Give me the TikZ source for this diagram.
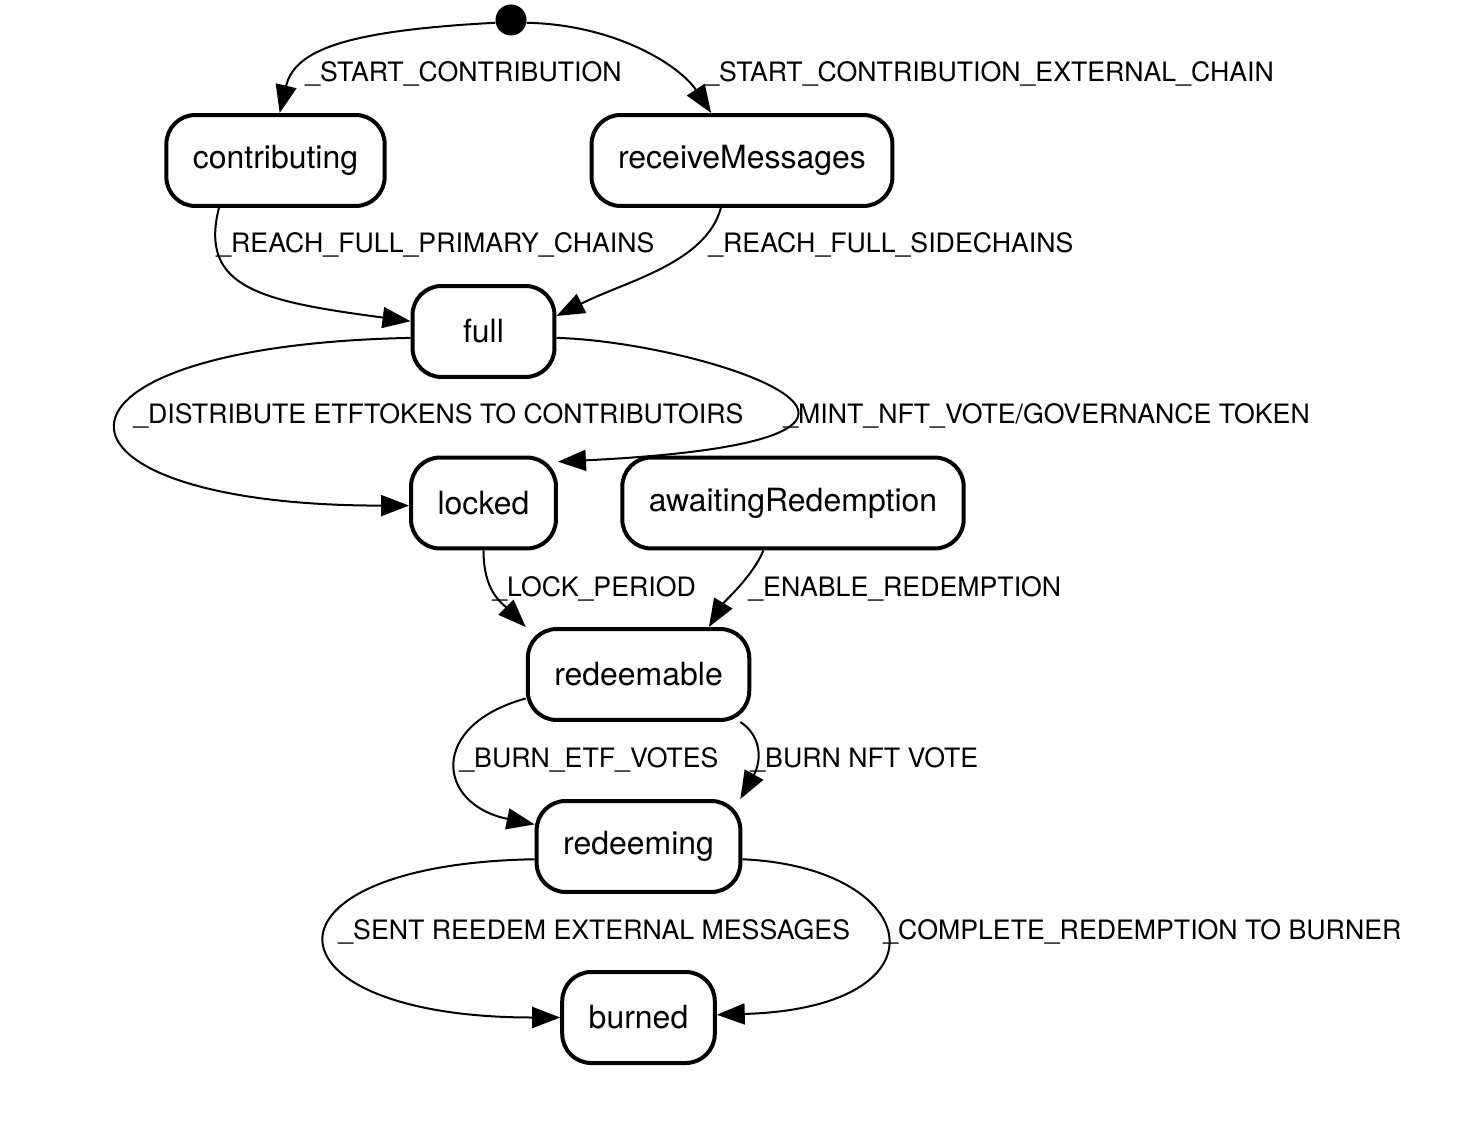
\documentclass[tikz,border=0pt]{standalone}
\usepackage{fontspec}
\setmainfont{TeX Gyre Heros}
\usepackage{tikz}
\usetikzlibrary{
  arrows.meta,
  positioning
}

\begin{document}
\begin{tikzpicture}[
      x=0.02cm, y=-0.02cm,
      state/.style={
         rectangle,
         rounded corners=0.58cm,
         line width=0.08cm,
         draw=black,
         minimum width=2.84cm,
         minimum height=1.82cm,
         inner xsep=0.53cm,
         font=\fontsize{18.2}{20}\selectfont
      },
      initial/.style={
         circle, fill=black, inner sep=0pt, minimum size=0.62cm
      },
      label/.style={
         anchor=west, inner sep=0pt,
         font=\fontsize{15.2}{17}\selectfont
      },
      tip/.style={-{Triangle[length=0.56cm,width=0.42cm]}, line width=0.04cm}
    ]
    \useasboundingbox (0,0) rectangle (1466,1148);
    % states
    \node (start) [initial] at (511,20) {};
    \node (contributing) [state] at (275.5,160.5) {contributing};
    \node (receive) [state] at (742,160.5) {receiveMessages};
    \node (full) [state] at (483.5,331.5) {full};
    \node (locked) [state] at (483.5,503) {locked};
    \node (awaiting) [state] at (793,503) {awaitingRedemption};
    \node (redeemable) [state] at (638.5,674.5) {redeemable};
    \node (redeeming) [state] at (638.5,846.5) {redeeming};
    \node (burned) [state] at (638.5,1017.5) {burned};
    % transitions
    \draw[tip] (start.190) .. controls +(-150,8) and +(15,-63) .. (contributing.85);
    \draw[tip] (start.350) .. controls +(90,2) and +(-31,-47) .. (receive.123);
    \draw[tip] (contributing.220) .. controls +(-20,80) and +(-150,-20) .. (full.172);
    \draw[tip] (receive.246) .. controls +(-15,55) and +(70,-35) .. (full.12);
    \draw[tip] (full.185) .. controls +(-395,8) and +(-385,0) .. (locked.182);
    \draw[tip] (full.355) .. controls +(147,4) and +(445,-22) .. (locked.29);
    \draw[tip] (locked.south) .. controls +(0,40) and +(-25,-25) .. (redeemable.north west);
    \draw[tip] (awaiting.238) .. controls +(-10,25) and +(15,-25) .. (redeemable.34);
    \draw[tip] (redeemable.192) .. controls +(-98,27) and +(-98,-20) .. (redeeming.168);
    \draw[tip] (redeemable.335) .. controls +(22,14.5) and +(21,-37.5) .. (redeeming.25);
    \draw[tip] (redeeming.187) .. controls +(-288,5) and +(-303,0) .. (burned.west);
    \draw[tip] (redeeming.353) .. controls +(181,8) and +(236,-7) .. (burned.2);
    % labels
    \node (l1) [label] at (305,74) {\_START\_CONTRIBUTION};
    \node (l2) [label] at (704,74) {\_START\_CONTRIBUTION\_EXTERNAL\_CHAIN};
    \node (l3) [label] at (216,245) {\_REACH\_FULL\_PRIMARY\_CHAINS};
    \node (l4) [label] at (708,245) {\_REACH\_FULL\_SIDECHAINS};
    \node (l5) [label] at (133,416) {\_DISTRIBUTE ETFTOKENS TO CONTRIBUTOIRS};
    \node (l6) [label] at (783,416) {\_MINT\_NFT\_VOTE/GOVERNANCE TOKEN};
    \node (l7) [label] at (492,589) {\_LOCK\_PERIOD};
    \node (l8) [label] at (748,589) {\_ENABLE\_REDEMPTION};
    \node (l9) [label] at (459,760) {\_BURN\_ETF\_VOTES};
    \node (l10) [label] at (750,760) {\_BURN NFT VOTE};
    \node (l11) [label] at (338,932) {\_SENT REEDEM EXTERNAL MESSAGES};
    \node (l12) [label] at (883,932) {\_COMPLETE\_REDEMPTION TO BURNER};
\end{tikzpicture}
\end{document}
